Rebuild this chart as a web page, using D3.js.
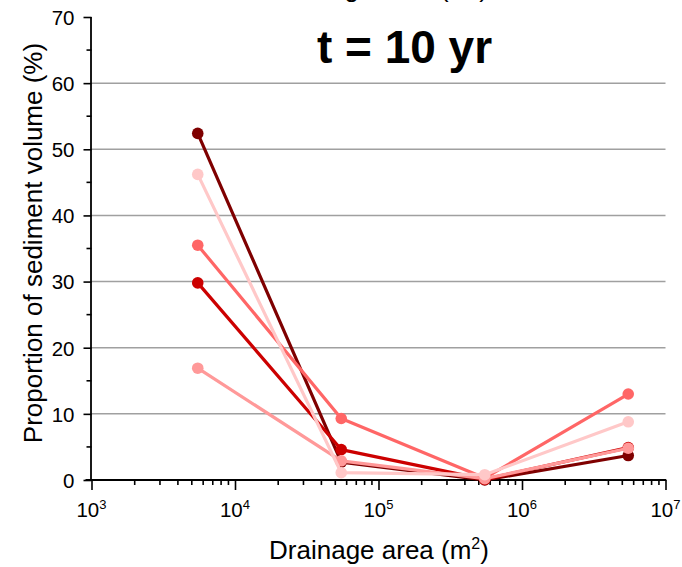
<!DOCTYPE html>
<html><head><meta charset="utf-8">
<script src="https://cdn.jsdelivr.net/npm/d3@7"></script>
<style>body{margin:0;background:#fff}svg{display:block;font-family:"Liberation Sans",Arial,sans-serif}</style>
</head><body>
<svg id="c" width="682" height="567"></svg>
<script>
const areas = [5.5e3, 5.5e4, 5.5e5, 5.5e6];
const seriesNames = ["s1", "s2", "s3", "s4", "s5"];
const s1 = [52.4, 2.7, 0.0, 3.7];
const s2 = [29.8, 4.6, 0.1, 4.9];
const s3 = [35.5, 9.3, 0.3, 13.0];
const s4 = [16.9, 2.9, 0.2, 4.8];
const s5 = [46.2, 1.1, 0.8, 8.8];
const seriesColors = ["#7f0000", "#cc0000", "#ff6666", "#ff9999", "#ffc8c8"];
const yTicks = [0, 10, 20, 30, 40, 50, 60, 70];
const yMinor = [5, 15, 25, 35, 45, 55, 65];
const xExponents = [3, 4, 5, 6, 7];
const gridValues = [10, 20, 30, 40, 50, 60];
const title = "t = 10 yr";

const svg = d3.select("#c");
const x = d3.scaleLog().domain([1e3, 1e7]).range([91.5, 665.5]);
const y = d3.scaleLinear().domain([0, 70]).range([480, 17]);

// label of the panel above, clipped at the top edge as in the reference
const topLbl = svg.append("text").attr("x", 268).attr("y", -3).attr("font-size", 26).attr("fill", "#000");
topLbl.append("tspan").text("Drainage area (m");
topLbl.append("tspan").attr("font-size", 16).attr("dy", -10).text("2");
topLbl.append("tspan").attr("dy", 10).text(")");

// gridlines
svg.append("g").selectAll("line").data(gridValues).join("line")
  .attr("x1", x(1e3)).attr("x2", x(1e7)).attr("y1", d => y(d)).attr("y2", d => y(d))
  .attr("stroke", "#a0a0a0").attr("stroke-width", 1.5);

// y axis
const yAxis = svg.append("g").attr("transform", `translate(${x(1e3)},0)`)
  .call(d3.axisLeft(y).tickValues(yTicks).tickSize(8).tickPadding(9).tickFormat(d3.format("d")));
yAxis.select(".domain").attr("stroke", "#000").attr("stroke-width", 1.8).attr("d", `M-0.5,${y(70)}V${y(0)+1}`);
yAxis.selectAll(".tick line").attr("stroke-width", 1.6);
yAxis.selectAll(".tick text").attr("font-size", 20.5).attr("font-family", "Liberation Sans, Arial, sans-serif").attr("fill", "#000").attr("dy", "0.36em");
yAxis.append("g").selectAll("line").data(yMinor).join("line")
  .attr("x1", -5).attr("x2", 0).attr("y1", d => y(d)).attr("y2", d => y(d))
  .attr("stroke", "#000").attr("stroke-width", 1.6);

// x axis
const majors = xExponents.map(e => Math.pow(10, e));
const minors = [];
for (let e = 3; e < 7; e++) for (let m = 2; m <= 9; m++) minors.push(m * Math.pow(10, e));
const xAxis = svg.append("g").attr("transform", `translate(0,${y(0)})`)
  .call(d3.axisBottom(x).tickValues(majors).tickSize(10).tickFormat(() => ""));
xAxis.select(".domain").attr("stroke", "#000").attr("stroke-width", 1.8).attr("d", `M${x(1e3)-6},0H${x(1e7)+0.8}`);
xAxis.selectAll(".tick line").attr("stroke-width", 1.6);
xAxis.append("g").selectAll("line").data(minors).join("line")
  .attr("x1", d => x(d)).attr("x2", d => x(d)).attr("y1", 0).attr("y2", 5)
  .attr("stroke", "#000").attr("stroke-width", 1.6);
const xl = svg.append("g").selectAll("text").data(xExponents).join("text")
  .attr("x", d => x(Math.pow(10, d))).attr("y", 517).attr("text-anchor", "middle")
  .attr("font-size", 20.5).attr("fill", "#000");
xl.append("tspan").text("10");
xl.append("tspan").attr("font-size", 13).attr("dy", -8).text(d => d);

// axis titles
svg.append("text").attr("transform", "translate(42,243) rotate(-90)").attr("text-anchor", "middle")
  .attr("font-size", 26).attr("fill", "#000").text("Proportion of sediment volume (%)");
const xt = svg.append("text").attr("x", 379).attr("y", 559).attr("text-anchor", "middle")
  .attr("font-size", 26).attr("fill", "#000");
xt.append("tspan").text("Drainage area (m");
xt.append("tspan").attr("font-size", 16).attr("dy", -10).text("2");
xt.append("tspan").attr("dy", 10).text(")");

// title
svg.append("text").attr("x", 404.5).attr("y", 63).attr("text-anchor", "middle")
  .attr("font-size", 46).attr("font-weight", "bold").attr("fill", "#000").text(title);

// series
const allSeries = [s1, s2, s3, s4, s5];
const line = d3.line().x((d, i) => x(areas[i])).y(d => y(d));
allSeries.forEach((vals, k) => {
  const g = svg.append("g").attr("class", seriesNames[k]);
  g.append("path").datum(vals).attr("d", line).attr("fill", "none")
    .attr("stroke", seriesColors[k]).attr("stroke-width", 3.2).attr("stroke-linejoin", "round");
  g.selectAll("circle").data(vals).join("circle")
    .attr("cx", (d, i) => x(areas[i])).attr("cy", d => y(d)).attr("r", 5.8)
    .attr("fill", seriesColors[k]);
});
</script>
</body></html>
